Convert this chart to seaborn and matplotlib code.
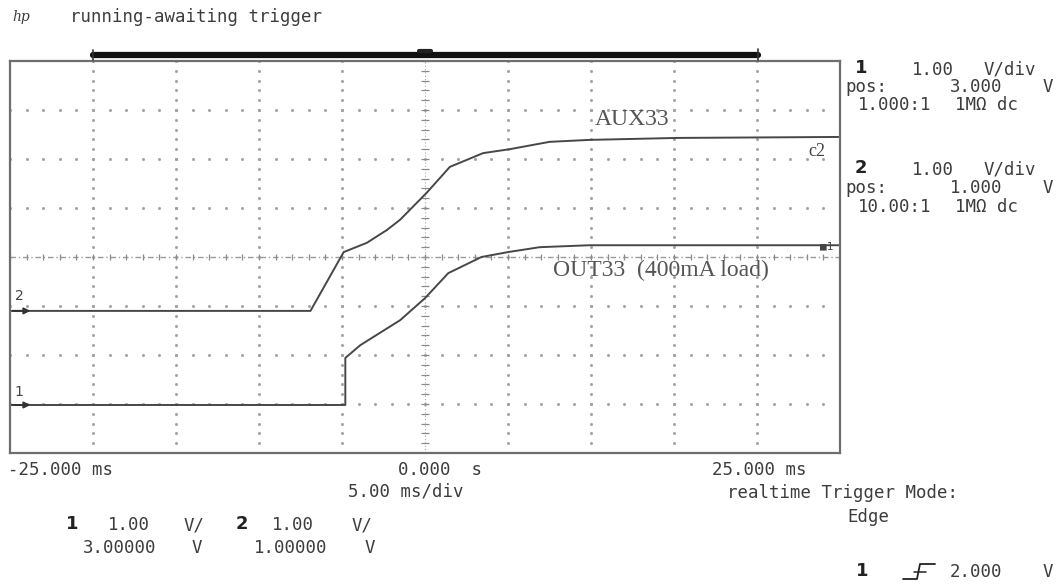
import numpy as np
import pandas as pd
import matplotlib
matplotlib.use("Agg")
import matplotlib.pyplot as plt
from matplotlib.lines import Line2D
import seaborn as sns

# ---------------- DATA ----------------
# channel settings
ch1_pos, ch1_vdiv = 3.0, 1.0     # OUT33
ch2_pos, ch2_vdiv = 1.0, 1.0     # AUX33

# OUT33 (channel 1), time in ms, level in V
out33_ms = [-25, -4.8, -4.8, -3.9, -1.5, 0.0, 1.4, 3.4, 5.0, 6.9, 9.9, 25]
out33_v = [-0.02, -0.02, 0.94, 1.20, 1.71, 2.16, 2.67, 3.00, 3.10, 3.20, 3.24, 3.24]

# AUX33 (channel 2)
aux33_ms = [-25, -6.9, -4.9, -3.5, -2.3, -1.5, 0.1, 1.5, 3.5, 5.1, 7.5, 9.9, 15.2, 25]
aux33_v = [-0.10, -0.10, 1.10, 1.29, 1.55, 1.76, 2.31, 2.84, 3.12, 3.20, 3.35, 3.39, 3.43, 3.45]

time_labels = ["-25.000 ms", "0.000  s", "25.000 ms"]

W, H = 1061, 586


def fx(px):
    return px / W


def fy(py):
    return 1 - py / H


sns.set_style("white")
plt.rcParams['font.family'] = ['DejaVu Sans Mono', 'DejaVu Sans']

fig = plt.figure(figsize=(W / 100, H / 100), dpi=100)
ax = fig.add_axes([fx(10), fy(453), (840 - 10) / W, (453 - 61) / H])
ax.set_xlim(-25, 25)
ax.set_ylim(-4, 4)
ax.set_xticks([])
ax.set_yticks([])
for s in ax.spines.values():
    s.set_color("#6e6e6e")
    s.set_linewidth(1.6)

# ---------------- GRATICULE ----------------
dot = "#a0a0a0"
fine_x = np.arange(-25, 25.01, 1.0)
fine_y = np.arange(-4, 4.01, 0.2)
for gy in range(-3, 4):
    if gy == 0:
        continue
    ax.plot(fine_x, np.full_like(fine_x, gy), ls="none", marker="s", ms=1.0, color=dot)
for gx in range(-20, 21, 5):
    if gx == 0:
        continue
    ax.plot(np.full_like(fine_y, gx), fine_y, ls="none", marker="s", ms=1.0, color=dot)

# center cross with minor ticks
ax.plot([0, 0], [-4, 4], color="#a8a8a8", lw=0.8, ls=(0, (1, 2)))
ax.plot(np.zeros_like(fine_y), fine_y, ls="none", marker="_", ms=6, mew=0.9, color="#8a8a8a")
ax.plot([-25, 25], [0, 0], color="#9a9a9a", lw=1.0, ls=(0, (4, 2, 1, 2)))
ax.plot(fine_x, np.zeros_like(fine_x), ls="none", marker="|", ms=5, mew=0.9, color="#8a8a8a")

# ---------------- TRACES ----------------
df1 = pd.DataFrame({"ms": out33_ms, "div": (np.array(out33_v) - ch1_pos) / ch1_vdiv})
df2 = pd.DataFrame({"ms": aux33_ms, "div": (np.array(aux33_v) - ch2_pos) / ch2_vdiv})
trace = "#474747"
sns.lineplot(data=df1, x="ms", y="div", ax=ax, sort=False, estimator=None, color=trace, lw=1.4)
sns.lineplot(data=df2, x="ms", y="div", ax=ax, sort=False, estimator=None, color=trace, lw=1.4)
ax.set_xlabel("")
ax.set_ylabel("")

ax.text(12.5, 2.8, "AUX33", family="Liberation Serif", fontsize=17, color="#555555",
        ha="center", va="center")
ax.text(14.2, -0.27, "OUT33  (400mA load)", family="Liberation Serif", fontsize=17,
        color="#555555", ha="center", va="center")
ax.text(23.6, 2.15, "c2", family="Liberation Serif", fontsize=13, color="#444444",
        ha="center", va="center")
ax.text(24.2, 0.22, "■1", fontsize=8, color="#444444", ha="center", va="center")

# ground markers on the left
for lbl, lvl, ypos in [("2", -1.10, 296), ("1", -3.02, 392)]:
    ax.annotate("", xy=(-23.6, lvl), xytext=(-25.0, lvl),
                arrowprops=dict(arrowstyle="-|>", color="#333333", lw=1.4, mutation_scale=9))
    fig.text(fx(19), fy(ypos), lbl, fontsize=10, color="#444444", ha="center", va="center",
             family="DejaVu Sans")

# ---------------- TOP BAR ----------------
fig.add_artist(Line2D([fx(93), fx(758)], [fy(55), fy(55)], color="#111111", lw=4.5))
fig.add_artist(Line2D([fx(93), fx(93)], [fy(50), fy(60)], color="#333333", lw=1.2))
fig.add_artist(Line2D([fx(758), fx(758)], [fy(49), fy(60)], color="#333333", lw=1.2))
fig.add_artist(Line2D([fx(419), fx(431)], [fy(51), fy(51)], color="#222222", lw=3))

# ---------------- TEXT ----------------
txt = "#3c3c3c"
fs = 12.5
big = 13
fig.text(fx(12), fy(17), "hp", family="DejaVu Serif", style="italic", fontsize=10,
         color=txt, va="center")
fig.text(fx(70), fy(17), "running-awaiting trigger", fontsize=fs, color=txt, va="center")

# right panel
fig.text(fx(855), fy(68), "1", fontsize=big, weight="bold", family="DejaVu Sans", color="#222222", va="center")
fig.text(fx(912), fy(70), "1.00", fontsize=fs, color=txt, va="center")
fig.text(fx(984), fy(70), "V/div", fontsize=fs, color=txt, va="center")
fig.text(fx(845), fy(87), "pos:", fontsize=fs, color=txt, va="center")
fig.text(fx(950), fy(87), "3.000", fontsize=fs, color=txt, va="center")
fig.text(fx(1043), fy(87), "V", fontsize=fs, color=txt, va="center")
fig.text(fx(858), fy(105), "1.000:1", fontsize=fs, color=txt, va="center")
fig.text(fx(955), fy(105), "1MΩ dc", fontsize=fs, color=txt, va="center")

fig.text(fx(855), fy(168), "2", fontsize=big, weight="bold", family="DejaVu Sans", color="#222222", va="center")
fig.text(fx(912), fy(170), "1.00", fontsize=fs, color=txt, va="center")
fig.text(fx(984), fy(170), "V/div", fontsize=fs, color=txt, va="center")
fig.text(fx(845), fy(188), "pos:", fontsize=fs, color=txt, va="center")
fig.text(fx(950), fy(188), "1.000", fontsize=fs, color=txt, va="center")
fig.text(fx(1043), fy(188), "V", fontsize=fs, color=txt, va="center")
fig.text(fx(858), fy(207), "10.00:1", fontsize=fs, color=txt, va="center")
fig.text(fx(955), fy(207), "1MΩ dc", fontsize=fs, color=txt, va="center")

# time axis labels
fig.text(fx(8), fy(470), time_labels[0], fontsize=fs, color=txt, va="center")
fig.text(fx(398), fy(470), time_labels[1], fontsize=fs, color=txt, va="center")
fig.text(fx(712), fy(470), time_labels[2], fontsize=fs, color=txt, va="center")
fig.text(fx(348), fy(492), "5.00 ms/div", fontsize=fs, color=txt, va="center")
fig.text(fx(727), fy(493), "realtime Trigger Mode:", fontsize=fs, color=txt, va="center")
fig.text(fx(847), fy(517), "Edge", fontsize=fs, color=txt, va="center")

# bottom-left channel summary
fig.text(fx(66), fy(524), "1", fontsize=big, weight="bold", family="DejaVu Sans", color="#222222", va="center")
fig.text(fx(108), fy(525), "1.00", fontsize=fs, color=txt, va="center")
fig.text(fx(184), fy(525), "V/", fontsize=fs, color=txt, va="center")
fig.text(fx(236), fy(524), "2", fontsize=big, weight="bold", family="DejaVu Sans", color="#222222", va="center")
fig.text(fx(272), fy(525), "1.00", fontsize=fs, color=txt, va="center")
fig.text(fx(352), fy(525), "V/", fontsize=fs, color=txt, va="center")
fig.text(fx(83), fy(548), "3.00000", fontsize=fs, color=txt, va="center")
fig.text(fx(192), fy(548), "V", fontsize=fs, color=txt, va="center")
fig.text(fx(254), fy(548), "1.00000", fontsize=fs, color=txt, va="center")
fig.text(fx(365), fy(548), "V", fontsize=fs, color=txt, va="center")

# trigger level
fig.text(fx(856), fy(571), "1", fontsize=big, weight="bold", family="DejaVu Sans", color="#222222", va="center")
fig.add_artist(Line2D([fx(903), fx(917), fx(920), fx(935)],
                      [fy(579), fy(579), fy(564), fy(564)], color="#222222", lw=1.3))
fig.add_artist(Line2D([fx(914), fx(926)], [fy(572), fy(572)], color="#222222", lw=1.1))
fig.text(fx(950), fy(572), "2.000", fontsize=fs, color=txt, va="center")
fig.text(fx(1043), fy(572), "V", fontsize=fs, color=txt, va="center")

fig.savefig("out.png", dpi=100, facecolor="white")
